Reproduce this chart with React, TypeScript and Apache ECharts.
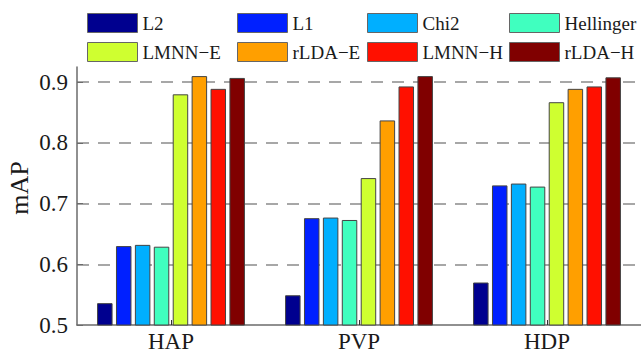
import React, { useEffect, useRef } from "react";
import * as echarts from "echarts";

const categories = ["HAP", "PVP", "HDP"];
const seriesNames = ["L2", "L1", "Chi2", "Hellinger", "LMNN−E", "rLDA−E", "LMNN−H", "rLDA−H"];
const colors = ["#00008F", "#0020FF", "#00AFFF", "#40FFBF", "#CFFF30", "#FF9F00", "#FF1000", "#800000"];
const L2 = [0.536, 0.549, 0.570];
const L1 = [0.630, 0.676, 0.730];
const Chi2 = [0.632, 0.677, 0.733];
const Hellinger = [0.629, 0.673, 0.728];
const LMNN_E = [0.880, 0.742, 0.867];
const rLDA_E = [0.910, 0.837, 0.889];
const LMNN_H = [0.889, 0.893, 0.893];
const rLDA_H = [0.907, 0.910, 0.908];
const seriesValues = [L2, L1, Chi2, Hellinger, LMNN_E, rLDA_E, LMNN_H, rLDA_H];
const yTicks = [0.5, 0.6, 0.7, 0.8, 0.9];

const FONT = "'Liberation Serif', 'Times New Roman', serif";
const TEXT = "#1a1a1a";
const AXIS = "#6b6b6b";

export default function App() {
  const ref = useRef<HTMLDivElement>(null);
  useEffect(() => {
    if (!ref.current) return;
    const chart = echarts.init(ref.current, null, { renderer: "svg" });
    const legendCols = [
      { left: 87, items: [seriesNames[0], seriesNames[4]] },
      { left: 237, items: [seriesNames[1], seriesNames[5]] },
      { left: 367, items: [seriesNames[2], seriesNames[6]] },
      { left: 509, items: [seriesNames[3], seriesNames[7]] },
    ];
    chart.setOption({
      animation: false,
      backgroundColor: "#ffffff",
      textStyle: { fontFamily: FONT },
      legend: legendCols.map((c) => ({
        data: c.items,
        left: c.left,
        top: 13,
        orient: "vertical",
        icon: "rect",
        itemWidth: 50,
        itemHeight: 19,
        itemGap: 9,
        padding: 0,
        selectedMode: false,
        itemStyle: { borderColor: "#666", borderWidth: 1 },
        textStyle: { fontFamily: FONT, fontSize: 19, color: TEXT },
      })),
      grid: { left: 77, top: 67, width: 566, bottom: 30, containLabel: false },
      xAxis: {
        type: "category",
        data: categories,
        axisLine: { lineStyle: { color: AXIS, width: 1.5 } },
        axisTick: { show: true, inside: true, alignWithLabel: true, length: 5, lineStyle: { color: "#333" } },
        axisLabel: { fontFamily: FONT, fontSize: 23, color: TEXT, margin: 5 },
      },
      yAxis: {
        type: "value",
        min: 0.5,
        max: 0.925,
        interval: 0.1,
        axisLine: { show: true, lineStyle: { color: AXIS, width: 1.5 } },
        axisTick: { show: true, inside: true, length: 6, lineStyle: { color: AXIS } },
        axisLabel: {
          fontFamily: FONT,
          fontSize: 23,
          color: TEXT,
          margin: 9,
          showMaxLabel: false,
          formatter: (v: number) => {
            const hit = yTicks.find((t) => Math.abs(t - v) < 1e-6);
            return hit !== undefined ? hit.toFixed(1) : "";
          },
        },
        splitLine: {
          show: true,
          showMinLine: false,
          showMaxLine: false,
          lineStyle: { color: "#8a8a8a", width: 1.5, type: [12, 9] },
        },
      },
      graphic: [
        {
          type: "text",
          x: 19,
          y: 188,
          rotation: Math.PI / 2,
          style: {
            text: "mAP",
            fontFamily: FONT,
            fontSize: 26,
            fill: TEXT,
            align: "center",
            verticalAlign: "middle",
          },
        },
      ],
      series: seriesNames.map((name, i) => ({
        name,
        type: "bar",
        data: seriesValues[i],
        barWidth: 15.5,
        barGap: "22%",
        itemStyle: { color: colors[i], borderColor: "#444", borderWidth: 1 },
      })),
    });
    return () => chart.dispose();
  }, []);
  return (
    <div
      ref={ref}
      style={{ position: "fixed", left: 0, top: 0, width: 641, height: 355, background: "#fff" }}
    />
  );
}
